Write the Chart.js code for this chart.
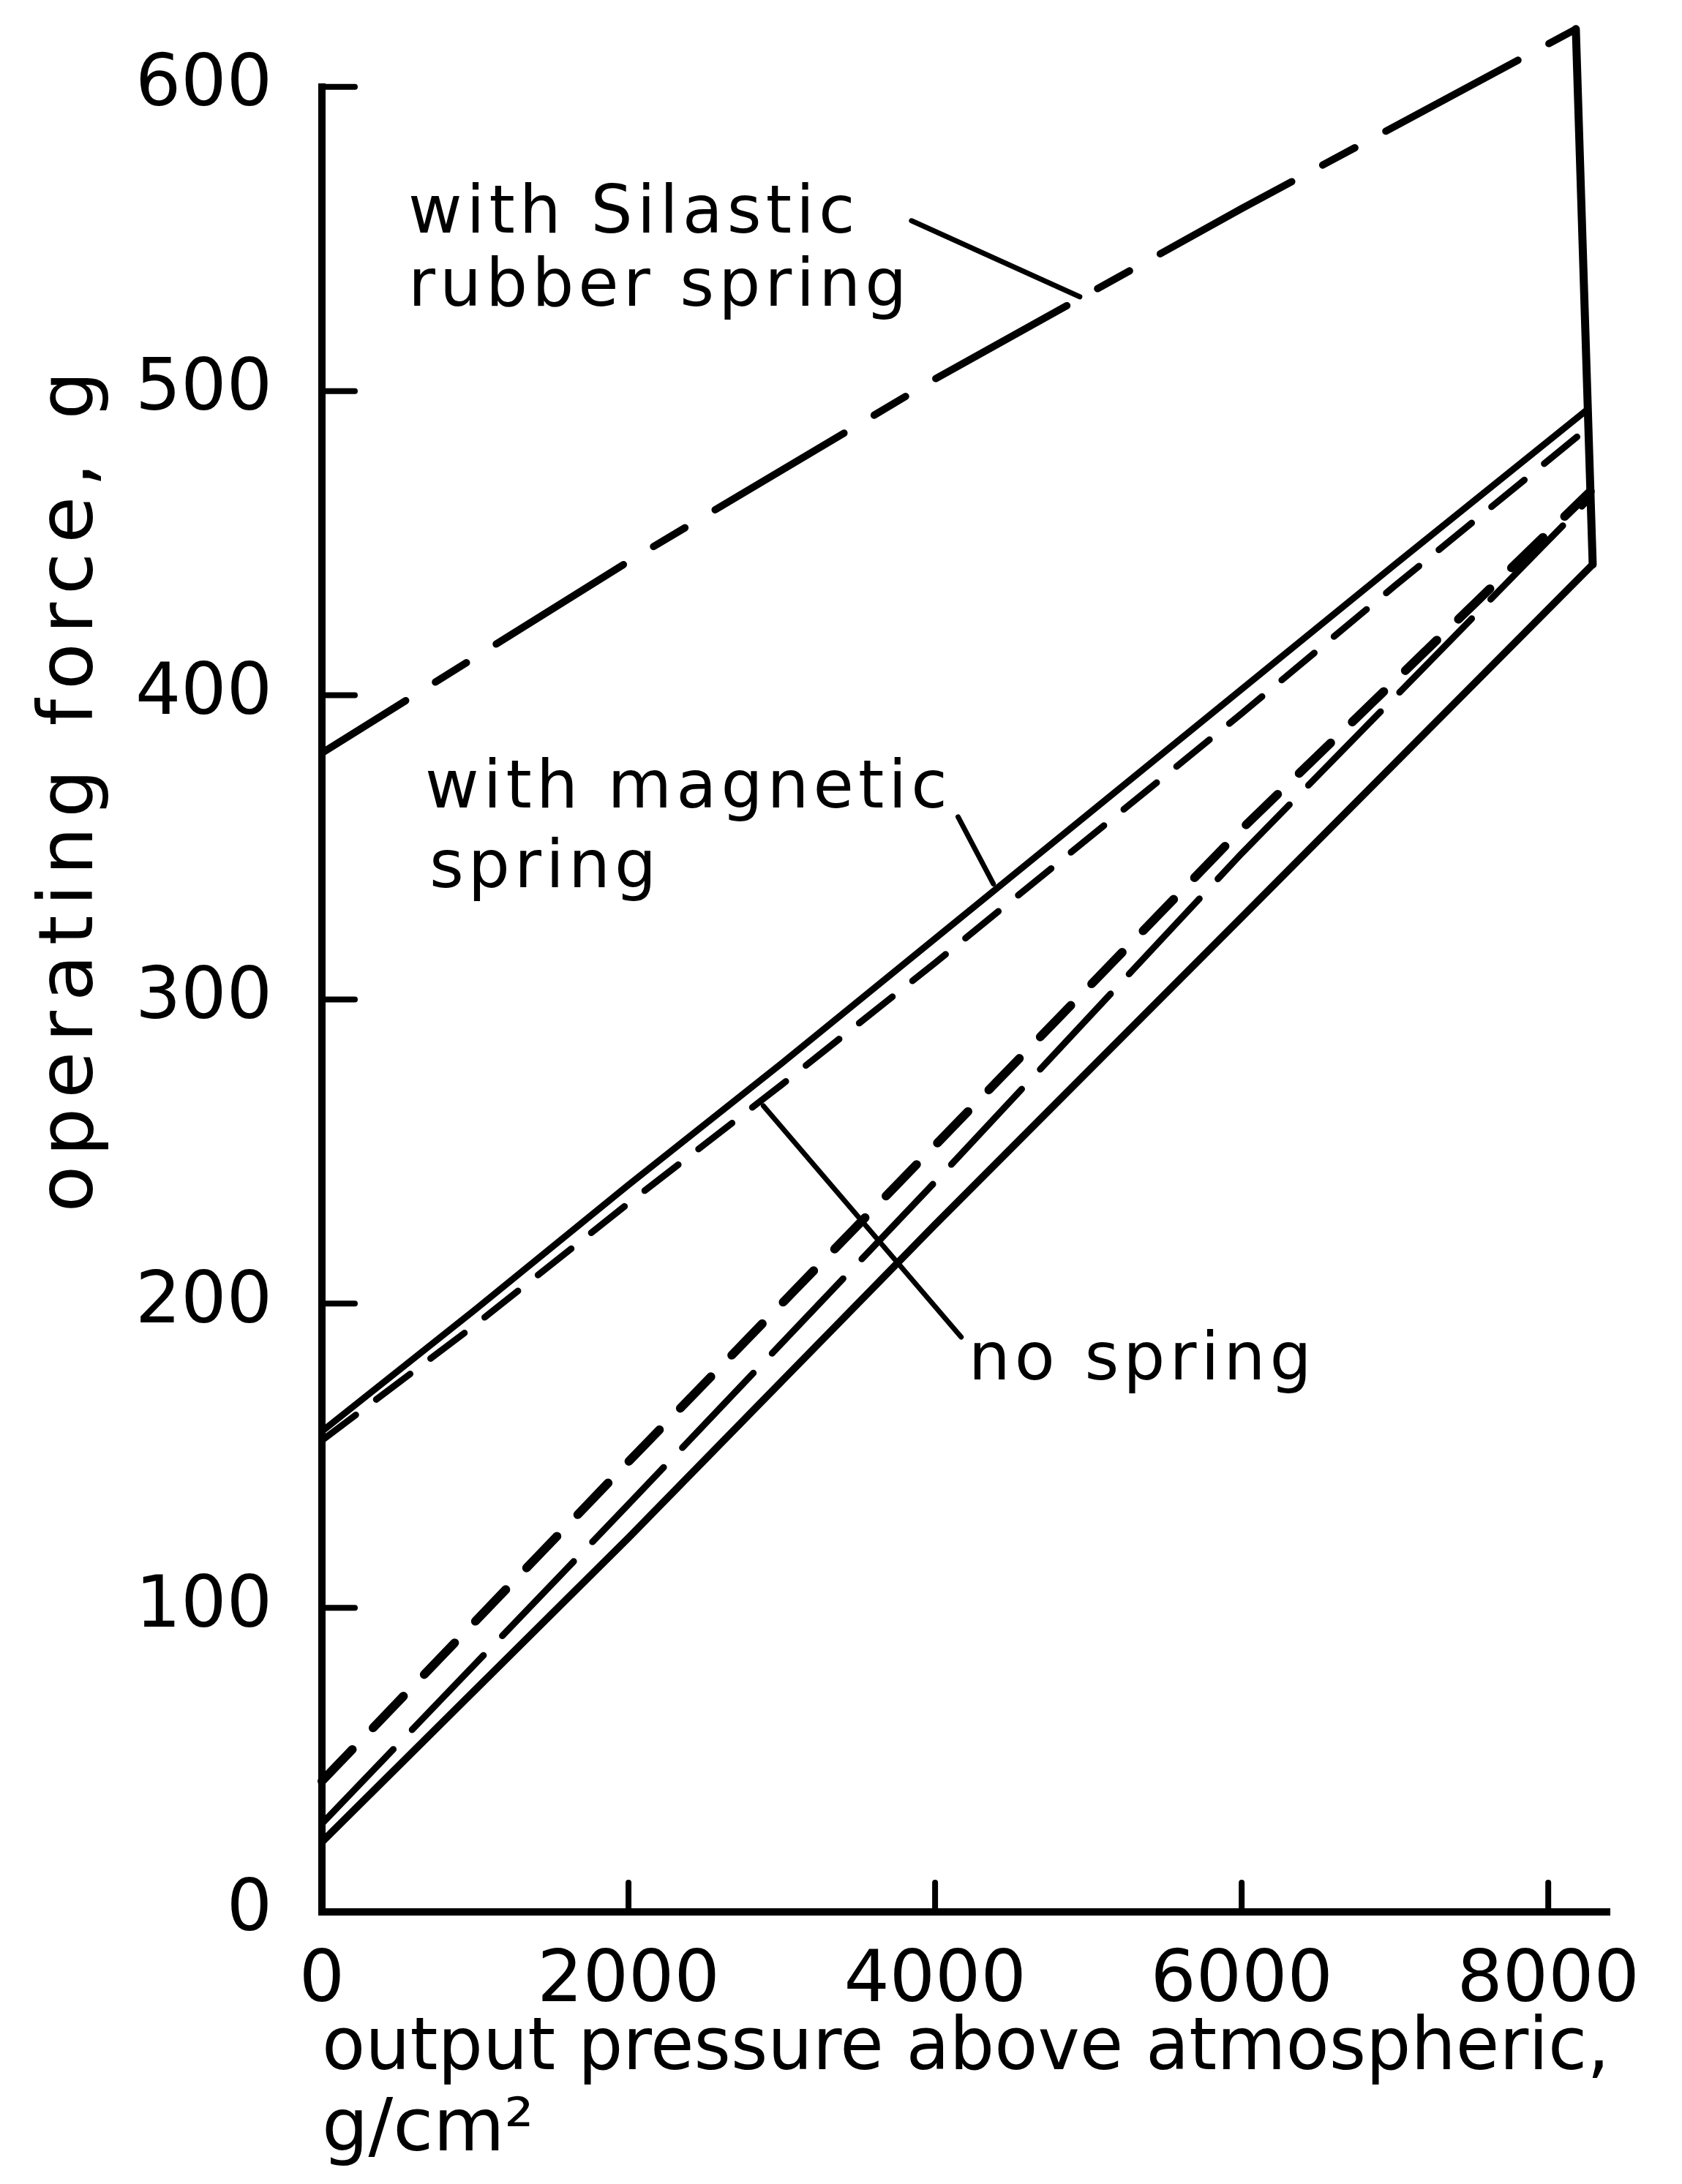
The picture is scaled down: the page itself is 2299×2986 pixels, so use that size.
<!DOCTYPE html>
<html>
<head>
<meta charset="utf-8">
<title>operating force vs output pressure</title>
<script src="https://cdn.jsdelivr.net/npm/chart.js@4.4.1/dist/chart.umd.min.js"></script>
<style>
  html, body { margin: 0; padding: 0; background: #fff; }
  canvas { display: block; }
</style>
</head>
<body>
<canvas id="forceChart" width="2299" height="2986"></canvas>
<script>
// output pressure above atmospheric (g/cm2) against operating force (g)
const xTickValues = [0, 2000, 4000, 6000, 8000]

// with Silastic rubber spring
const silasticP = [0, 2000, 4000, 6000, 8180]
const silasticF = [381, 444, 504, 560, 619]

// with magnetic spring
const magneticUpP = [0, 1000, 2000, 3000, 4000, 5000, 6000, 7000, 8258]
const magneticUpF = [158, 198, 239, 279, 320, 361, 402, 443, 494]
const magneticDownP = [0, 1000, 2000, 3000, 4000, 5000, 6000, 7000, 8262]
const magneticDownF = [155, 193, 233, 272, 312, 353, 394, 436, 488]

// no spring
const noSpringAP = [0, 2000, 4000, 6000, 8275]
const noSpringAF = [43, 148, 252, 356, 467]
const noSpringBP = [0, 2000, 4000, 6000, 8275]
const noSpringBF = [29, 134, 240, 348, 465]
const noSpringLowP = [0, 2000, 4000, 6000, 8290]
const noSpringLowF = [23, 123, 226, 327, 443]

// closing edge at the top of the pressure range
const endEdgeP = [8180, 8290]
const endEdgeF = [619, 443]

// leader lines from the labels to their curves
const silasticLeaderP = [3846, 4944]
const silasticLeaderF = [556, 531]
const magneticLeaderP = [4150, 4380]
const magneticLeaderF = [360, 338]
const noSpringLeaderP = [2880, 4170]
const noSpringLeaderF = [265, 189]

const noteText = ['with Silastic', 'rubber spring', 'with magnetic', 'spring', 'no spring']
const noteP = [563, 563, 673, 701, 4218]
const noteF = [552, 528, 363, 337, 175]

const FONT = "'DejaVu Sans', sans-serif"

const toPts = (xs, ys) => xs.map((x, i) => ({ x, y: ys[i] }))

function curve(xs, ys, width, dash, offset) {
  return {
    data: toPts(xs, ys),
    borderColor: '#000',
    borderWidth: width,
    borderDash: dash || [],
    borderDashOffset: offset || 0,
    borderCapStyle: 'round',
    borderJoinStyle: 'round',
    pointRadius: 0,
    fill: false,
    tension: 0,
    clip: false
  }
}

const whiteBg = {
  id: 'whiteBg',
  beforeDraw(chart) {
    const { ctx, width, height } = chart
    ctx.save()
    ctx.fillStyle = '#fff'
    ctx.fillRect(0, 0, width, height)
    ctx.restore()
  }
}

// tick marks point into the plot
const inwardTicks = {
  id: 'inwardTicks',
  afterDraw(chart) {
    const { ctx, chartArea: a, scales: { x, y } } = chart
    ctx.save()
    ctx.strokeStyle = '#000'
    ctx.lineWidth = 8
    ctx.lineCap = 'round'
    y.ticks.forEach(t => {
      if (t.value === 0) return
      const py = y.getPixelForValue(t.value)
      ctx.beginPath(); ctx.moveTo(a.left, py); ctx.lineTo(a.left + 45, py); ctx.stroke()
    })
    x.ticks.forEach(t => {
      if (t.value === 0) return
      const px = x.getPixelForValue(t.value)
      ctx.beginPath(); ctx.moveTo(px, a.bottom); ctx.lineTo(px, a.bottom - 40); ctx.stroke()
    })
    ctx.restore()
  }
}

const notes = {
  id: 'notes',
  afterDraw(chart) {
    const { ctx, scales: { x, y } } = chart
    ctx.save()
    ctx.fillStyle = '#000'
    ctx.textBaseline = 'alphabetic'
    ctx.textAlign = 'left'
    ctx.font = '90px ' + FONT
    ctx.letterSpacing = '6px'
    noteText.forEach((s, i) => {
      ctx.fillText(s, x.getPixelForValue(noteP[i]), y.getPixelForValue(noteF[i]))
    })
    // y axis title, set higher than the axis middle
    ctx.font = '104px ' + FONT
    ctx.letterSpacing = '13px'
    ctx.translate(126, 1076)
    ctx.rotate(-Math.PI / 2)
    ctx.textAlign = 'center'
    ctx.fillText('operating force, g', 0, 0)
    ctx.restore()
  }
}

new Chart(document.getElementById('forceChart'), {
  type: 'line',
  data: {
    datasets: [
      curve(silasticP, silasticF, 10, [205, 48, 50, 48], 70),
      curve(magneticUpP, magneticUpF, 9),
      curve(magneticDownP, magneticDownF, 9, [58, 35]),
      curve(noSpringAP, noSpringAF, 12, [60, 41]),
      curve(noSpringBP, noSpringBF, 9, [141, 37]),
      curve(noSpringLowP, noSpringLowF, 10),
      curve(endEdgeP, endEdgeF, 11),
      curve(silasticLeaderP, silasticLeaderF, 7),
      curve(magneticLeaderP, magneticLeaderF, 7),
      curve(noSpringLeaderP, noSpringLeaderF, 7)
    ]
  },
  options: {
    responsive: false,
    animation: false,
    devicePixelRatio: 1,
    layout: { padding: { top: 118, right: 99, left: 0, bottom: 0 } },
    plugins: { legend: { display: false }, tooltip: { enabled: false } },
    scales: {
      x: {
        type: 'linear',
        min: 0, max: 8400,
        afterFit(s) { s.height = 372 },
        afterBuildTicks(s) { s.ticks = xTickValues.map(v => ({ value: v })) },
        grid: { display: false },
        border: { display: true, width: 10, color: '#000' },
        ticks: {
          color: '#000', padding: 30, maxRotation: 0,
          font: { family: FONT, size: 98 },
          callback: v => String(v)
        },
        title: {
          display: true,
          align: 'start',
          text: ['output pressure above atmospheric,', 'g/cm²'],
          color: '#000',
          padding: { top: 0, bottom: 16 },
          font: { family: FONT, size: 100, lineHeight: 1.11 }
        }
      },
      y: {
        min: 0, max: 600,
        afterFit(s) { s.width = 440 },
        grid: { display: false },
        border: { display: true, width: 10, color: '#000' },
        ticks: {
          stepSize: 100, color: '#000', padding: 60,
          font: { family: FONT, size: 98 },
          callback: v => String(v)
        }
      }
    }
  },
  plugins: [whiteBg, inwardTicks, notes]
})
</script>
</body>
</html>
